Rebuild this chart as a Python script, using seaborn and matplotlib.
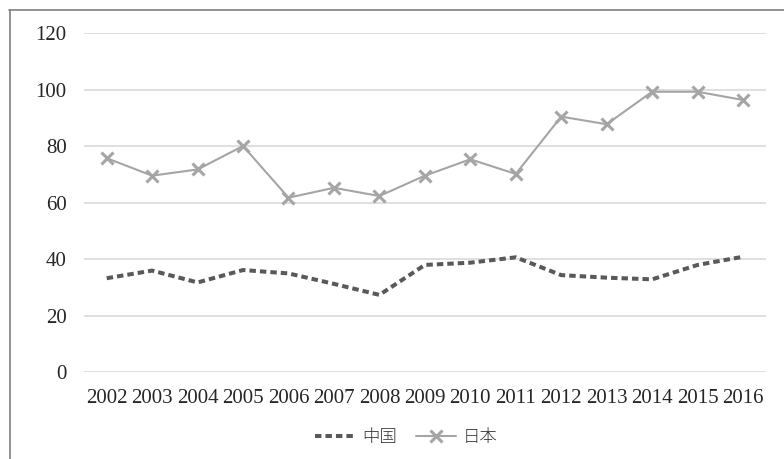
import matplotlib
matplotlib.use("Agg")
import matplotlib.pyplot as plt
from matplotlib.lines import Line2D
import seaborn as sns
import pandas as pd

years = ["2002", "2003", "2004", "2005", "2006", "2007", "2008", "2009",
         "2010", "2011", "2012", "2013", "2014", "2015", "2016"]
china = [33.2, 35.9, 31.7, 36.1, 34.9, 31.2, 27.3, 37.9, 38.7, 40.6,
         34.3, 33.4, 32.8, 37.9, 40.8]
japan = [75.7, 69.5, 71.7, 80.0, 61.7, 65.2, 62.3, 69.5, 75.3, 70.1,
         90.4, 87.7, 99.2, 99.2, 96.3]
series_names = ["中国", "日本"]
y_ticks = [0, 20, 40, 60, 80, 100, 120]

sns.set_theme(style="white")
plt.rcParams["font.family"] = ["Liberation Serif", "Noto Sans CJK JP"]

df = pd.DataFrame({"year": years, "中国": china, "日本": japan})

fig = plt.figure(figsize=(7.84, 4.59), dpi=100)
ax = fig.add_axes([0.1071, 0.1895, 0.8696, 0.7386])

china_color = "#595959"
japan_color = "#A5A5A5"

sns.lineplot(data=df, x="year", y="中国", ax=ax, color=china_color,
             linewidth=2.9, sort=False, legend=False)
ax.lines[-1].set_linestyle((0, (1.6, 1.0)))
ax.lines[-1].set_dash_capstyle("butt")
sns.lineplot(data=df, x="year", y="日本", ax=ax, color=japan_color,
             linewidth=1.5, marker="x", markersize=8.5, markeredgewidth=2.2,
             markeredgecolor=japan_color, sort=False, legend=False)

ax.set_xlim(-0.5, len(years) - 0.5)
ax.set_ylim(0, 120)
ax.set_yticks(y_ticks)
ax.set_xlabel("")
ax.set_ylabel("")
ax.yaxis.grid(True, color="#D9D9D9", linewidth=1.2)
ax.xaxis.grid(False)
for s in ax.spines.values():
    s.set_visible(False)
ax.tick_params(axis="both", length=0, labelsize=15, colors="#262626", pad=12.5)

# legend below the plot
handles = [
    Line2D([], [], color=china_color, linewidth=2.9, linestyle=(0, (1.6, 1.0)),
           dash_capstyle="butt"),
    Line2D([], [], color=japan_color, linewidth=1.5, marker="x",
           markersize=8.5, markeredgewidth=2.2),
]
leg = fig.legend(handles, series_names, loc="center", bbox_to_anchor=(0.518, 0.048),
                 ncol=2, frameon=False, handlelength=2.3, handletextpad=0.4,
                 columnspacing=1.1,
                 prop={"family": ["Noto Sans CJK JP"], "size": 12.5, "weight": "light"})
for t in leg.get_texts():
    t.set_color("#333333")

# outer frame (top and left edges)
fig.add_artist(Line2D([9 / 784, 1.0], [1 - 9.5 / 459, 1 - 9.5 / 459],
                      transform=fig.transFigure, color="#7F7F7F", linewidth=1.2))
fig.add_artist(Line2D([9.5 / 784, 9.5 / 784], [0.0, 1 - 9.5 / 459],
                      transform=fig.transFigure, color="#7F7F7F", linewidth=1.2))

fig.savefig("out.png", dpi=100)
